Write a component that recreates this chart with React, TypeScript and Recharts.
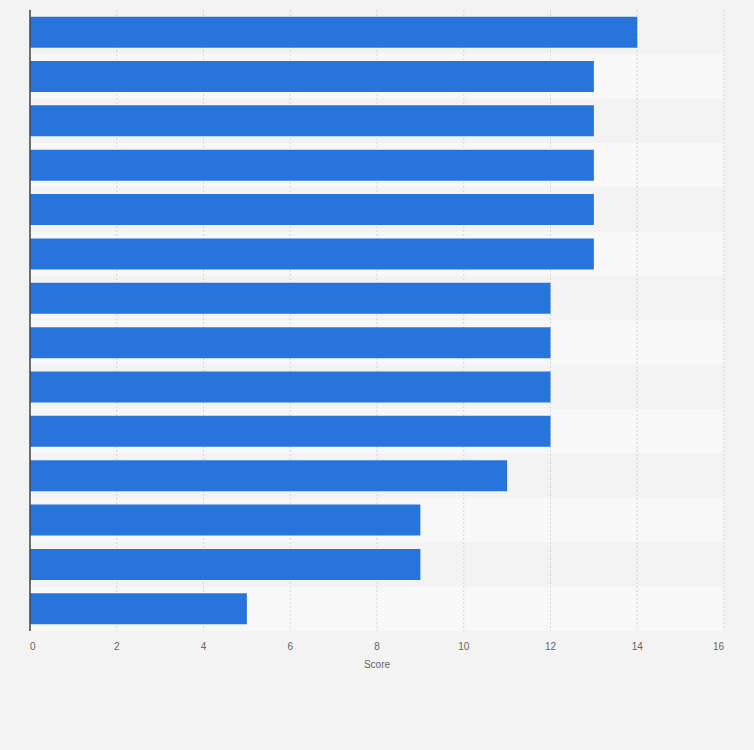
import { BarChart, Bar, XAxis, YAxis, CartesianGrid, Cell } from 'recharts';

const categories = [
  'Item 1', 'Item 2', 'Item 3', 'Item 4', 'Item 5', 'Item 6', 'Item 7',
  'Item 8', 'Item 9', 'Item 10', 'Item 11', 'Item 12', 'Item 13', 'Item 14',
];
const scores = [14, 13, 13, 13, 13, 13, 12, 12, 12, 12, 11, 9, 9, 5];
const xTicks = [0, 2, 4, 6, 8, 10, 12, 14, 16];
const xMax = 16;

const data = categories.map((name, i) => ({ name, score: scores[i], band: xMax }));

const ScoreTick = (props: any) => {
  const { x, y, payload } = props;
  const v = payload.value;
  const anchor = v === xTicks[0] ? 'start' : v === xMax ? 'end' : 'middle';
  return (
    <text x={x} y={y} dy="0.71em" textAnchor={anchor} fill="#666" fontSize={10}>
      {v}
    </text>
  );
};

export default function App() {
  return (
    <div
      style={{
        position: 'absolute',
        top: 0,
        left: 0,
        width: 754,
        height: 750,
        background: '#f3f3f3',
        fontFamily: '"Liberation Sans", Arial, sans-serif',
      }}
    >
      <BarChart
        width={754}
        height={750}
        data={data}
        layout="vertical"
        margin={{ top: 10, right: 30, left: 29, bottom: 79 }}
        barCategoryGap="15%"
      >
        <XAxis
          type="number"
          domain={[0, xMax]}
          ticks={xTicks}
          axisLine={false}
          tickLine={false}
          tickMargin={6}
          tick={<ScoreTick />}
          height={40}
          label={{ value: 'Score', position: 'insideBottom', offset: 3, fill: '#666', fontSize: 10 }}
        />
        <YAxis yAxisId="bg" type="category" dataKey="name" hide />
        <YAxis
          type="category"
          dataKey="name"
          width={1}
          tick={false}
          tickLine={false}
          axisLine={{ stroke: '#444', strokeWidth: 1.5 }}
          zIndex={1000}
        />
        <Bar yAxisId="bg" dataKey="band" barSize={44.3} isAnimationActive={false} zIndex={-200}>
          {data.map((d, i) => (
            <Cell key={d.name} fill={i % 2 === 0 ? '#f3f3f3' : '#f8f8f8'} />
          ))}
        </Bar>
        <CartesianGrid horizontal={false} stroke="#d6d6d6" strokeDasharray="2 2" />
        <Bar dataKey="score" fill="#2775dc" isAnimationActive={false} />
      </BarChart>
    </div>
  );
}
